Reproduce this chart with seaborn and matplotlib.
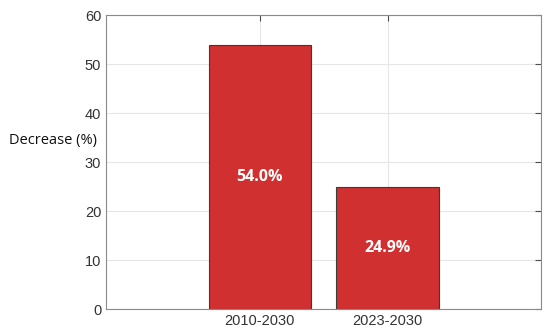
import numpy as np
import pandas as pd
import seaborn as sns
import matplotlib.pyplot as plt

periods = ["2010-2030", "2023-2030"]
decrease = [54.0, 24.9]
y_ticks = [0, 10, 20, 30, 40, 50, 60]

df = pd.DataFrame({"period": periods, "decrease": decrease})

sns.set_style("white")
plt.rcParams['font.family'] = ['Liberation Sans', 'DejaVu Sans']

fig = plt.figure(figsize=(5.5, 3.36), dpi=100)
ax = fig.add_axes([0.193, 0.080, 0.791, 0.875])

sns.barplot(data=df, x="period", y="decrease", color="#D13030", width=0.8,
            saturation=1, edgecolor="#3a3a3a", linewidth=0.8, ax=ax, zorder=2)

# white percentage labels in the middle of each bar
for i, v in enumerate(decrease):
    ax.text(i, v / 2, f"{v:.1f}%", color="white", fontweight="bold",
            fontsize=11.5, ha="center", va="center", family="Open Sans", zorder=3)

ax.set_xlim(-1.2, 2.2)
ax.set_ylim(0, 60)
ax.set_yticks(y_ticks)
ax.grid(True, color="#e6e6e6", linewidth=0.8, zorder=0)
ax.set_axisbelow(True)

ax.tick_params(axis="both", direction="in", length=4, width=0.8,
               colors="#4d4d4d", labelcolor="#333333", labelsize=10.5,
               top=True, right=True)
for s in ax.spines.values():
    s.set_color("#8a8a8a")
    s.set_linewidth(0.8)

ax.set_xlabel("")
ax.set_ylabel("")
ax.text(-0.122, 0.575, "Decrease (%)", transform=ax.transAxes, ha="center",
        va="center", fontsize=10.5, family="Open Sans", color="#111111")

plt.savefig("out.png", dpi=100)
plt.close()
